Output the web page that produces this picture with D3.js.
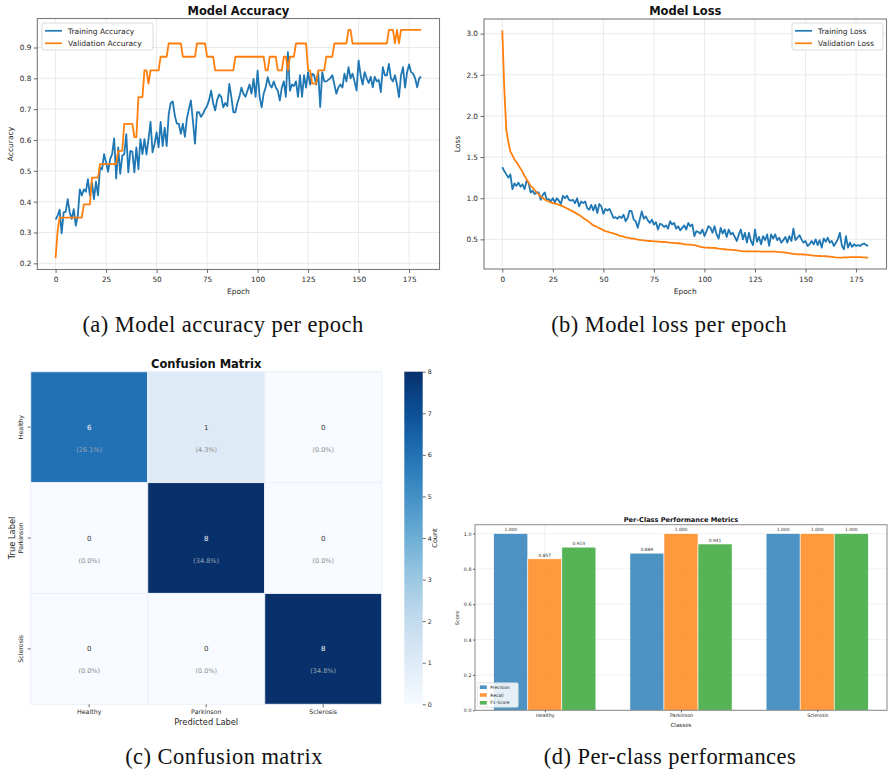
<!DOCTYPE html>
<html>
<head>
<meta charset="utf-8">
<script src="https://cdn.jsdelivr.net/npm/d3@7"></script>
<style>
body { margin: 0; background: #fff; }
svg { display: block; font-family: "DejaVu Sans", sans-serif; }
.cap { font-family: "Liberation Serif", serif; font-size: 22.5px; letter-spacing: 0.45px; fill: #111; }
</style>
</head>
<body>
<svg id="fig" width="888" height="771"></svg>
<script>
// ---- data ----
const epochs = d3.range(182);

const trainAcc = [
  0.342,0.355,0.374,0.297,0.365,0.367,0.408,0.365,0.344,0.376,
  0.322,0.355,0.440,0.420,0.440,0.432,0.473,0.420,0.462,0.408,
  0.465,0.420,0.510,0.505,0.554,0.527,0.497,0.538,0.554,0.605,
  0.475,0.576,0.490,0.549,0.554,0.619,0.495,0.565,0.562,0.495,
  0.576,0.505,0.603,0.554,0.603,0.553,0.603,0.659,0.560,0.587,
  0.625,0.576,0.659,0.580,0.640,0.580,0.684,
  0.720,0.725,0.680,0.653,0.653,0.620,0.653,0.610,0.670,0.700,
  0.728,0.660,0.588,0.690,0.690,0.675,0.685,0.700,0.710,0.730,
  0.760,0.720,0.696,0.730,0.748,0.740,0.706,0.720,0.710,0.782,
  0.740,0.690,0.690,0.720,0.740,0.770,0.750,0.740,0.760,0.780,
  0.750,0.798,0.740,
  0.825,0.740,0.706,0.750,0.770,0.804,0.780,0.770,0.790,0.770,
  0.760,0.728,0.770,0.790,0.740,0.885,0.760,0.780,0.775,0.790,
  0.740,0.810,0.740,
  0.810,0.770,0.820,0.780,0.815,0.810,0.780,0.820,0.707,0.820,
  0.790,0.790,0.795,0.800,0.810,0.780,0.750,0.770,0.780,0.770,
  0.815,0.790,0.836,0.800,0.815,0.790,0.760,0.858,0.810,0.780,
  0.820,0.800,0.785,0.805,0.771,0.805,0.790,0.795,0.755,0.836,
  0.810,0.810,0.847,0.800,0.790,0.810,0.780,0.739,0.810,0.836,
  0.770,0.820,0.845,0.820,0.815,0.800,0.771,0.800,0.805
];

const valAcc = [
  0.217,0.304,
  0.348,0.348,0.348,0.348,0.348,0.348,0.348,0.348,0.348,0.348,0.348,0.348,
  0.391,0.391,0.391,0.391,
  0.478,0.478,0.478,0.478,
  0.522,0.522,0.522,0.522,0.522,0.522,0.522,0.522,0.522,
  0.565,0.565,0.565,
  0.652,0.652,0.652,0.652,0.652,
  0.609,0.609,
  0.739,0.739,0.739,
  0.826,0.826,0.783,0.826,0.826,0.826,0.826,0.826,
  0.870,0.870,0.870,0.870,
  0.913,0.913,0.913,0.913,0.913,0.913,0.913,
  0.870,0.870,0.870,0.870,0.870,0.870,0.870,
  0.913,0.913,0.913,0.913,0.913,
  0.870,0.870,0.870,0.870,
  0.826,0.826,0.826,0.826,0.826,0.826,0.826,0.826,0.826,0.826,
  0.870,0.870,0.870,0.870,0.870,0.870,0.870,0.870,0.870,0.870,0.870,0.870,0.870,0.870,0.870,
  0.826,0.826,
  0.870,0.870,0.870,0.870,
  0.826,0.826,0.826,
  0.870,0.870,
  0.826,
  0.870,0.870,0.870,
  0.913,0.913,0.913,0.913,0.913,0.913,
  0.826,0.826,
  0.783,0.783,0.783,
  0.826,0.826,0.826,0.826,
  0.870,0.870,0.870,0.870,
  0.913,0.913,0.913,0.913,0.913,0.913,0.913,
  0.957,0.957,
  0.913,0.913,0.913,0.913,0.913,0.913,0.913,0.913,0.913,0.913,0.913,0.913,0.913,0.913,0.913,0.913,0.913,0.913,
  0.957,0.957,0.957,
  0.913,0.957,0.913,
  0.957,0.957,0.957,0.957,0.957,0.957,0.957,0.957,0.957,0.957,0.957
];

const trainLoss = [
  1.376,1.33,1.29,1.25,1.29,1.11,1.18,1.15,1.19,1.14,
  1.17,1.11,1.21,1.19,1.07,1.09,1.05,1.07,1.07,0.98,
  1.04,1.07,0.98,0.99,0.96,1.00,0.95,1.00,0.97,0.93,
  1.03,1.00,1.03,0.98,0.97,0.98,0.94,1.00,0.90,0.96,
  0.94,0.96,0.88,0.86,0.92,0.85,0.92,0.82,0.93,0.90,
  0.81,0.87,0.85,0.87,0.82,0.76,0.77,0.75,0.78,0.76,
  0.80,0.72,0.76,0.85,0.84,0.74,0.72,0.64,0.74,0.84,
  0.75,0.78,0.73,0.70,0.74,0.68,0.71,0.62,0.69,0.68,
  0.65,0.67,0.63,0.72,0.68,0.70,0.63,0.66,0.61,0.64,
  0.67,0.62,0.70,0.66,0.68,0.54,0.60,0.59,0.57,0.62,
  0.54,0.60,0.66,0.64,0.58,0.66,0.56,0.51,0.64,0.57,
  0.62,0.53,0.62,0.56,0.58,0.53,0.48,0.56,0.62,0.50,
  0.58,0.46,0.58,0.48,0.43,0.62,0.47,0.53,0.44,0.54,
  0.49,0.56,0.42,0.56,0.51,0.56,0.49,0.52,0.46,0.49,
  0.53,0.46,0.54,0.48,0.63,0.49,0.52,0.55,0.50,0.46,
  0.48,0.42,0.44,0.48,0.44,0.50,0.43,0.49,0.40,0.51,
  0.47,0.52,0.46,0.48,0.42,0.46,0.50,0.58,0.42,0.38,
  0.54,0.40,0.46,0.41,0.44,0.42,0.43,0.42,0.44,0.45,
  0.43,0.42
];

const valLoss = [
  3.04,2.32,1.83,1.68,1.57,1.52,1.47,1.44,1.40,1.36,
  1.32,1.27,1.23,1.19,1.15,1.13,1.10,1.07,1.05,1.02,
  1.005,0.985,0.97,0.96,0.95,0.94,0.935,0.93,0.92,0.91,
  0.90,0.89,0.875,0.865,0.85,0.84,0.825,0.81,0.795,0.78,
  0.76,0.745,0.73,0.71,0.69,0.67,0.66,0.65,0.635,0.625,
  0.61,0.60,0.595,0.585,0.58,0.573,0.565,0.555,0.545,0.538,
  0.532,0.525,0.52,0.515,0.51,0.508,0.503,0.498,0.494,0.49,
  0.488,0.485,0.482,0.48,0.478,0.476,0.475,0.473,0.471,0.469,
  0.468,0.466,0.463,0.46,0.458,0.456,0.455,0.453,0.45,0.445,
  0.44,0.438,0.437,0.435,0.432,0.43,0.425,0.418,0.41,0.405,
  0.40,0.399,0.398,0.397,0.396,0.395,0.392,0.388,0.385,0.382,
  0.38,0.377,0.375,0.373,0.372,0.37,0.366,0.362,0.358,0.356,
  0.355,0.355,0.356,0.355,0.355,0.355,0.354,0.353,0.352,0.351,
  0.35,0.35,0.35,0.351,0.35,0.35,0.348,0.346,0.344,0.342,
  0.34,0.336,0.332,0.328,0.324,0.32,0.319,0.318,0.317,0.316,
  0.315,0.312,0.309,0.306,0.303,0.30,0.299,0.298,0.297,0.296,
  0.295,0.292,0.289,0.286,0.283,0.28,0.279,0.278,0.279,0.28,
  0.281,0.282,0.283,0.284,0.285,0.285,0.284,0.283,0.281,0.28,
  0.279,0.278
];

const epochTicks = [0, 25, 50, 75, 100, 125, 150, 175];
const accTicks = [0.2, 0.3, 0.4, 0.5, 0.6, 0.7, 0.8, 0.9];
const lossTicks = [0.5, 1.0, 1.5, 2.0, 2.5, 3.0];

const classes = ["Healthy", "Parkinson", "Sclerosis"];
const confusion = [[6, 1, 0], [0, 8, 0], [0, 0, 8]];
const countTicks = [0, 1, 2, 3, 4, 5, 6, 7, 8];

const metricNames = ["Precision", "Recall", "F1-Score"];
const precision = [1.000, 0.889, 1.000];
const recall = [0.857, 1.000, 1.000];
const f1Score = [0.923, 0.941, 1.000];
const scoreTicks = [0.0, 0.2, 0.4, 0.6, 0.8, 1.0];

const captions = ["(a) Model accuracy per epoch", "(b) Model loss per epoch",
                  "(c) Confusion matrix", "(d) Per-class performances"];

// ---- drawing ----
const svg = d3.select('#fig');
const TXT = '#262626';

function styleAxis(sel, size) {
  sel.select('.domain').remove();
  sel.selectAll('.tick line').attr('stroke', '#444').attr('stroke-width', 0.8);
  sel.selectAll('.tick text').attr('fill', TXT).style('font-size', size + 'px').style('font-family', '"DejaVu Sans", sans-serif');
}

function lineChart(o) {
  const g = svg.append('g');
  const all = o.train.concat(o.val);
  const ext = d3.extent(all), pad = (ext[1] - ext[0]) * 0.05;
  const x = d3.scaleLinear().domain([-181 * 0.05, 181 * 1.05]).range([o.left, o.right]);
  const y = d3.scaleLinear().domain([ext[0] - pad, ext[1] + pad]).range([o.bottom, o.top]);

  g.append('g').selectAll('line').data(epochTicks).join('line')
    .attr('x1', d => x(d)).attr('x2', d => x(d)).attr('y1', o.top).attr('y2', o.bottom)
    .attr('stroke', '#e8e8e8').attr('stroke-width', 0.9);
  g.append('g').selectAll('line').data(o.yTicks).join('line')
    .attr('x1', o.left).attr('x2', o.right).attr('y1', d => y(d)).attr('y2', d => y(d))
    .attr('stroke', '#e8e8e8').attr('stroke-width', 0.9);

  const line = d3.line().x((d, i) => x(epochs[i])).y(d => y(d));
  g.append('path').datum(o.train).attr('d', line)
    .attr('fill', 'none').attr('stroke', '#1f77b4').attr('stroke-width', 1.8).attr('stroke-linejoin', 'round');
  g.append('path').datum(o.val).attr('d', line)
    .attr('fill', 'none').attr('stroke', '#ff7f0e').attr('stroke-width', 1.8).attr('stroke-linejoin', 'round');

  g.append('rect').attr('x', o.left).attr('y', o.top)
    .attr('width', o.right - o.left).attr('height', o.bottom - o.top)
    .attr('fill', 'none').attr('stroke', '#7a7a7a').attr('stroke-width', 1.1);

  g.append('g').attr('transform', `translate(0,${o.bottom})`)
    .call(d3.axisBottom(x).tickValues(epochTicks).tickFormat(d3.format('d')).tickSize(3.5).tickPadding(4))
    .call(s => styleAxis(s, 7.3));
  g.append('g').attr('transform', `translate(${o.left},0)`)
    .call(d3.axisLeft(y).tickValues(o.yTicks).tickFormat(d3.format('.1f')).tickSize(3.5).tickPadding(2.5))
    .call(s => styleAxis(s, 7.3));

  const cx = (o.left + o.right) / 2;
  g.append('text').attr('x', cx).attr('y', 15).attr('text-anchor', 'middle')
    .attr('font-weight', 'bold').attr('font-size', 11.5).attr('fill', '#111').text(o.title);
  g.append('text').attr('x', cx).attr('y', 294).attr('text-anchor', 'middle')
    .attr('font-size', 7.5).attr('fill', TXT).text('Epoch');
  g.append('text').attr('transform', `translate(${o.ylabX},${(o.top + o.bottom) / 2}) rotate(-90)`)
    .attr('text-anchor', 'middle').attr('font-size', 7.5).attr('fill', TXT).text(o.ylabel);

  // legend
  const lg = g.append('g').attr('transform', `translate(${o.legX},23)`);
  lg.append('rect').attr('width', o.legW).attr('height', 27).attr('rx', 2)
    .attr('fill', '#fff').attr('fill-opacity', 0.85).attr('stroke', '#d0d0d0').attr('stroke-width', 0.8);
  o.legend.forEach((t, i) => {
    const yy = 7.8 + i * 12.5;
    lg.append('line').attr('x1', 3).attr('x2', 20).attr('y1', yy).attr('y2', yy)
      .attr('stroke', i ? '#ff7f0e' : '#1f77b4').attr('stroke-width', 1.7);
    lg.append('text').attr('x', 26).attr('y', yy + 2.7).attr('font-size', 7.5).attr('fill', TXT).text(t);
  });
}

lineChart({
  train: trainAcc, val: valAcc, yTicks: accTicks,
  left: 37.3, right: 439.5, top: 18.5, bottom: 269.5,
  title: 'Model Accuracy', ylabel: 'Accuracy', ylabX: 13,
  legX: 42, legW: 111, legend: ['Training Accuracy', 'Validation Accuracy']
});
lineChart({
  train: trainLoss, val: valLoss, yTicks: lossTicks,
  left: 484, right: 886.5, top: 19, bottom: 269,
  title: 'Model Loss', ylabel: 'Loss', ylabX: 460,
  legX: 792, legW: 91, legend: ['Training Loss', 'Validation Loss']
});

// ---- confusion matrix ----
(function () {
  const g = svg.append('g');
  const left = 30.7, right = 381.7, top = 371.7, bottom = 704.3;
  const cx = d3.scaleBand().domain(classes).range([left, right]);
  const cy = d3.scaleBand().domain(classes).range([top, bottom]);
  const color = d3.scaleSequential(d3.interpolateBlues).domain([0, 8]);
  const total = d3.sum(confusion.flat());

  const cells = [];
  confusion.forEach((row, i) => row.forEach((v, j) => cells.push({ r: classes[i], c: classes[j], v })));

  g.selectAll('rect.cell').data(cells).join('rect').attr('class', 'cell')
    .attr('x', d => cx(d.c)).attr('y', d => cy(d.r))
    .attr('width', cx.bandwidth()).attr('height', cy.bandwidth())
    .attr('fill', d => color(d.v)).attr('stroke', '#e9f1fa').attr('stroke-width', 1);

  g.selectAll('text.cnt').data(cells).join('text').attr('class', 'cnt')
    .attr('x', d => cx(d.c) + cx.bandwidth() / 2).attr('y', d => cy(d.r) + cy.bandwidth() / 2 + 2.5)
    .attr('text-anchor', 'middle').attr('font-size', 7)
    .attr('fill', d => d.v > 4 ? '#f4f8fc' : '#333').text(d => d.v);
  g.selectAll('text.pct').data(cells).join('text').attr('class', 'pct')
    .attr('x', d => cx(d.c) + cx.bandwidth() / 2).attr('y', d => cy(d.r) + cy.bandwidth() / 2 + 24.5)
    .attr('text-anchor', 'middle').attr('font-size', 6.5)
    .attr('fill', d => d.v > 4 ? '#9aa6b4' : '#8c8c8c')
    .text(d => `(${(d.v / total * 100).toFixed(1)}%)`);

  g.append('g').attr('transform', `translate(0,${bottom})`)
    .call(d3.axisBottom(cx).tickSize(3).tickPadding(2)).call(s => styleAxis(s, 6.3));
  const ya = g.append('g').attr('transform', `translate(${left},0)`)
    .call(d3.axisLeft(cy).tickSize(3).tickPadding(2)).call(s => styleAxis(s, 6.3));
  ya.selectAll('.tick text').attr('transform', 'rotate(-90)').attr('x', 0).attr('y', -8)
    .attr('dy', 0).attr('text-anchor', 'middle');

  g.append('text').attr('x', (left + right) / 2).attr('y', 368.3).attr('text-anchor', 'middle')
    .attr('font-weight', 'bold').attr('font-size', 11.5).attr('fill', '#111').text('Confusion Matrix');
  g.append('text').attr('x', (left + right) / 2).attr('y', 724.5).attr('text-anchor', 'middle')
    .attr('font-size', 8.3).attr('fill', TXT).text('Predicted Label');
  g.append('text').attr('transform', `translate(14.5,${(top + bottom) / 2}) rotate(-90)`)
    .attr('text-anchor', 'middle').attr('font-size', 8.3).attr('fill', TXT).text('True Label');

  // colour bar
  const defs = svg.append('defs');
  const grad = defs.append('linearGradient').attr('id', 'blues')
    .attr('x1', 0).attr('y1', 1).attr('x2', 0).attr('y2', 0);
  d3.range(0, 1.0001, 0.1).forEach(t => grad.append('stop').attr('offset', t).attr('stop-color', d3.interpolateBlues(t)));
  const cbx = 404.3, cbw = 18.4;
  const cbs = d3.scaleLinear().domain([0, 8]).range([bottom, top]);
  g.append('rect').attr('x', cbx).attr('y', top).attr('width', cbw).attr('height', bottom - top).attr('fill', 'url(#blues)');
  g.append('g').attr('transform', `translate(${cbx + cbw},0)`)
    .call(d3.axisRight(cbs).tickValues(countTicks).tickSize(3).tickPadding(2)).call(s => styleAxis(s, 6.3));
  g.append('text').attr('transform', `translate(437,${(top + bottom) / 2}) rotate(-90)`)
    .attr('text-anchor', 'middle').attr('font-size', 6.5).attr('fill', TXT).text('Count');
})();

// ---- per-class metrics ----
(function () {
  const g = svg.append('g');
  const left = 475, right = 887, top = 524.7, bottom = 710.3;
  const x = d3.scaleLinear().domain([-0.5125, 2.5125]).range([left, right]);
  const y = d3.scaleLinear().domain([0, 1.05]).range([bottom, top]);
  const series = [precision, recall, f1Score];
  const colors = ['#1f77b4', '#ff7f0e', '#2ca02c'];
  const w = 0.25;

  g.append('g').selectAll('line').data(scoreTicks).join('line')
    .attr('x1', left).attr('x2', right).attr('y1', d => y(d)).attr('y2', d => y(d))
    .attr('stroke', '#ececec').attr('stroke-width', 0.8);
  g.append('g').selectAll('line').data(classes).join('line')
    .attr('x1', (d, i) => x(i)).attr('x2', (d, i) => x(i)).attr('y1', top).attr('y2', bottom)
    .attr('stroke', '#ececec').attr('stroke-width', 0.8);

  const bars = [];
  series.forEach((vals, m) => vals.forEach((v, i) => bars.push({ m, i, v })));
  g.selectAll('rect.bar').data(bars).join('rect').attr('class', 'bar')
    .attr('x', d => x(d.i + (d.m - 1) * w - w / 2)).attr('width', x(w) - x(0))
    .attr('y', d => y(d.v)).attr('height', d => y(0) - y(d.v))
    .attr('fill', d => colors[d.m]).attr('fill-opacity', 0.8)
    .attr('stroke', '#fff').attr('stroke-width', 0.6);
  g.selectAll('text.val').data(bars).join('text').attr('class', 'val')
    .attr('x', d => x(d.i + (d.m - 1) * w)).attr('y', d => y(d.v) - 2.2)
    .attr('text-anchor', 'middle').attr('font-size', 4.4).attr('fill', '#333')
    .text(d => d.v.toFixed(3));

  g.append('rect').attr('x', left).attr('y', top).attr('width', right - left).attr('height', bottom - top)
    .attr('fill', 'none').attr('stroke', '#8a8a8a').attr('stroke-width', 1);

  g.append('g').attr('transform', `translate(0,${bottom})`)
    .call(d3.axisBottom(x).tickValues([0, 1, 2]).tickFormat(i => classes[i]).tickSize(2).tickPadding(1.5))
    .call(s => styleAxis(s, 4.8));
  g.append('g').attr('transform', `translate(${left},0)`)
    .call(d3.axisLeft(y).tickValues(scoreTicks).tickFormat(d3.format('.1f')).tickSize(2).tickPadding(1.5))
    .call(s => styleAxis(s, 4.8));

  g.append('text').attr('x', (left + right) / 2).attr('y', 521.5).attr('text-anchor', 'middle')
    .attr('font-weight', 'bold').attr('font-size', 6.6).attr('fill', '#111').text('Per-Class Performance Metrics');
  g.append('text').attr('x', (left + right) / 2).attr('y', 726.5).attr('text-anchor', 'middle')
    .attr('font-size', 5.6).attr('fill', TXT).text('Classes');
  g.append('text').attr('transform', `translate(459,618) rotate(-90)`)
    .attr('text-anchor', 'middle').attr('font-size', 5.2).attr('fill', TXT).text('Score');

  const lg = g.append('g').attr('transform', 'translate(477.3,682.7)');
  lg.append('rect').attr('width', 41).attr('height', 24.6).attr('rx', 1.5)
    .attr('fill', '#fff').attr('fill-opacity', 0.85).attr('stroke', '#d0d0d0').attr('stroke-width', 0.6);
  metricNames.forEach((t, m) => {
    const yy = 4.5 + m * 7.8;
    lg.append('rect').attr('x', 2.5).attr('y', yy - 1.8).attr('width', 7).attr('height', 3.6)
      .attr('fill', colors[m]).attr('fill-opacity', 0.8);
    lg.append('text').attr('x', 13).attr('y', yy + 1.6).attr('font-size', 4.4).attr('fill', TXT).text(t);
  });
})();

// ---- sub-figure captions ----
const capPos = [[223, 332], [669, 332], [224, 764], [670, 764]];
svg.selectAll('text.cap').data(captions).join('text').attr('class', 'cap')
  .attr('x', (d, i) => capPos[i][0]).attr('y', (d, i) => capPos[i][1])
  .attr('text-anchor', 'middle').text(d => d);
</script>
</body>
</html>
